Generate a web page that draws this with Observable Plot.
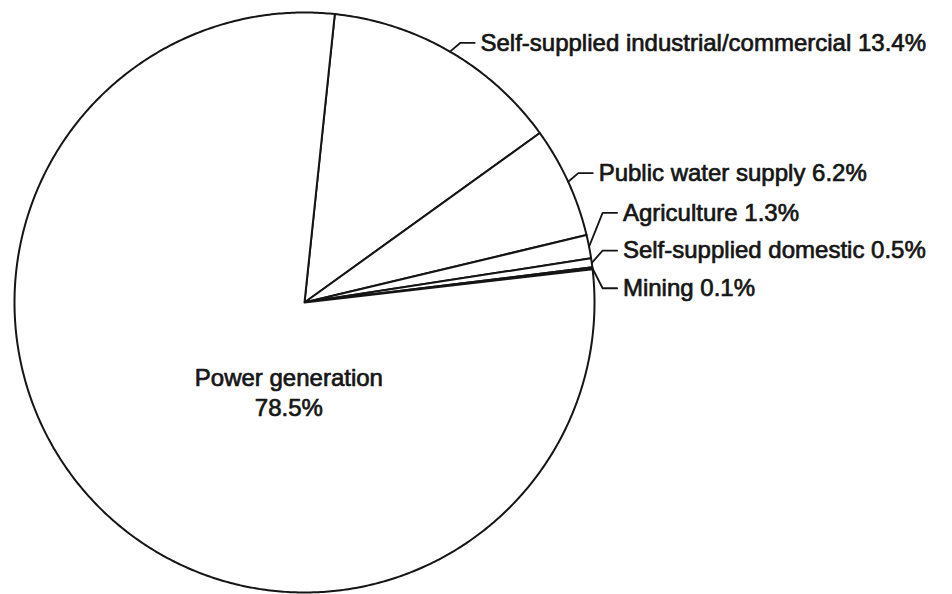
<!DOCTYPE html>
<html>
<head>
<meta charset="utf-8">
<script src="https://cdn.jsdelivr.net/npm/d3@7"></script>
<script src="https://cdn.jsdelivr.net/npm/@observablehq/plot@0.6"></script>
<style>
  body { margin: 0; background: #fff; }
</style>
</head>
<body>
<div id="chart"></div>
<script>
// Water withdrawals by use, percent of total
const categories = [
  "Self-supplied industrial/commercial",
  "Public water supply",
  "Agriculture",
  "Self-supplied domestic",
  "Mining",
  "Power generation"
];
const shares = [13.4, 6.2, 1.3, 0.5, 0.1, 78.5];

const rows = categories.map((name, i) => ({name, value: shares[i]}));

// Wedges run clockwise from just right of twelve o'clock
const start = 6 * Math.PI / 180;
const arcs = d3.pie().sort(null).value(d => d.value)
  .startAngle(start).endAngle(start + 2 * Math.PI)(rows);

// Closed outline of each wedge on the unit circle
const wedgePts = arcs.flatMap(a => {
  const n = Math.max(2, Math.ceil((a.endAngle - a.startAngle) / (Math.PI / 360)));
  const pts = [{name: a.data.name, x: 0, y: 0}];
  for (let k = 0; k <= n; k++) {
    const t = a.startAngle + (a.endAngle - a.startAngle) * k / n;
    pts.push({name: a.data.name, x: Math.sin(t), y: Math.cos(t)});
  }
  pts.push({name: a.data.name, x: 0, y: 0});
  return pts;
});

// Outside labels: leader from wedge midpoint, stacked without overlap
const gap = 0.13, lift = 0.03;
const outside = arcs.filter(a => a.data.value < 50).map(a => {
  const mid = (a.startAngle + a.endAngle) / 2;
  return {name: a.data.name, value: a.data.value,
          ax: Math.sin(mid), ay: Math.cos(mid), want: Math.cos(mid) + lift};
}).sort((p, q) => q.want - p.want);

let clusters = outside.map(d => ({items: [d], center: d.want}));
let merged = true;
while (merged) {
  merged = false;
  for (let i = 0; i < clusters.length - 1; i++) {
    const A = clusters[i], B = clusters[i + 1];
    const aBottom = A.center - (A.items.length - 1) / 2 * gap;
    const bTop = B.center + (B.items.length - 1) / 2 * gap;
    if (aBottom - bTop < gap) {
      const items = A.items.concat(B.items);
      clusters.splice(i, 2, {items, center: d3.mean(items, d => d.want)});
      merged = true;
      break;
    }
  }
}
clusters.forEach(c => {
  const kx = d3.max(c.items, d => d.ax) + 0.035;
  c.items.forEach((d, k) => {
    d.ky = c.center + ((c.items.length - 1) / 2 - k) * gap;
    d.kx = kx;
    d.tx = kx + 0.07;
  });
});

const leaderPts = outside.flatMap(d => [
  {name: d.name, x: d.ax, y: d.ay},
  {name: d.name, x: d.kx, y: d.ky},
  {name: d.name, x: d.kx + 0.05, y: d.ky}
]);

// Label for the dominant wedge sits inside it
const big = arcs.find(a => a.data.value >= 50);
const inAngle = 190 * Math.PI / 180, inRadius = 0.31;
const inside = [{x: Math.sin(inAngle) * inRadius, y: Math.cos(inAngle) * inRadius,
                 text: `${big.data.name}\n${big.data.value.toFixed(1)}%`}];

const ink = "#151515";
const textStyle = {fontSize: 24, fill: ink, stroke: ink, strokeWidth: 0.7};

const chart = Plot.plot({
  width: 952,
  height: 594,
  marginLeft: 14,
  marginRight: 358,
  marginTop: 12,
  marginBottom: 2,
  x: {domain: [-1, 1], axis: null},
  y: {domain: [-1, 1], axis: null},
  style: {fontFamily: "'Liberation Sans', Arial, sans-serif", background: "white", overflow: "visible"},
  marks: [
    Plot.line(wedgePts, {x: "x", y: "y", z: "name", fill: "white", stroke: ink,
                         strokeWidth: 2, strokeLinejoin: "round"}),
    Plot.line(leaderPts, {x: "x", y: "y", z: "name", stroke: ink, strokeWidth: 1.8}),
    Plot.text(outside, {x: "tx", y: "ky", text: d => `${d.name} ${d.value.toFixed(1)}%`,
                        textAnchor: "start", ...textStyle}),
    Plot.text(inside, {x: "x", y: "y", text: "text", textAnchor: "middle",
                       lineHeight: 1.25, ...textStyle})
  ]
});
document.getElementById("chart").append(chart);
</script>
</body>
</html>
